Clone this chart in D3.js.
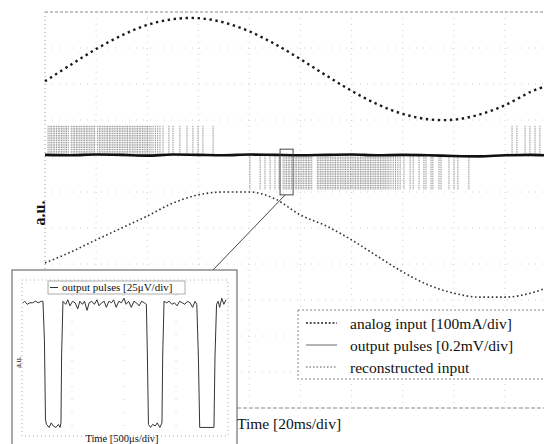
<!DOCTYPE html>
<html>
<head>
<meta charset="utf-8">
<script src="https://cdn.jsdelivr.net/npm/d3@7"></script>
<style>
  body { margin: 0; background: #fff; }
  svg { display: block; }
  text { font-family: "Liberation Serif", "DejaVu Serif", serif; fill: #111; }
</style>
</head>
<body>
<div id="chart"></div>
<script>
// time in ms (20 ms per div), amplitude in divisions
var analogT = [0, 10, 20, 30, 40, 50, 60, 70, 80, 90, 100, 110, 120, 130, 140, 150, 160, 170, 180, 190, 195.3];
var analogV = [9.08, 9.53, 9.97, 10.35, 10.64, 10.80, 10.83, 10.71, 10.46, 10.11, 9.69, 9.24, 8.81, 8.44, 8.17, 8.02, 8.01, 8.15, 8.41, 8.78, 8.92];

var reconT = [0, 10, 20, 30, 40, 50, 60, 70, 80, 90, 100, 110, 120, 130, 140, 150, 160, 170, 180, 190, 195.3];
var reconV = [4.03, 4.33, 4.67, 5.0, 5.33, 5.69, 5.92, 6.0, 6.0, 5.81, 5.36, 5.06, 4.67, 4.22, 3.78, 3.42, 3.19, 3.08, 3.08, 3.19, 3.31];

var baseT = [0, 10, 20, 30, 40, 50, 60, 70, 80, 90, 100, 110, 120, 130, 140, 150, 160, 170, 180, 190, 196];
var baseV = [7.03, 7.02, 7.04, 7.03, 7.01, 7.04, 7.03, 7.02, 7.04, 7.03, 7.02, 7.03, 7.04, 7.02, 7.03, 7.02, 7.00, 6.99, 7.02, 7.03, 7.02];
var pulseTop = 7.86, pulseBottom = 6.06;

var upPulses = [1.2, 1.9, 2.5, 3.2, 3.8, 4.5, 5.2, 5.8, 6.5, 7.1, 7.8, 8.4, 9.1,
  10.3, 11.0, 11.6, 12.3, 12.9, 13.6, 14.2, 14.9, 15.5, 16.2, 16.8, 17.5, 18.1, 18.8, 19.4,
  20.6, 21.3, 21.9, 22.6, 23.2, 23.9, 24.5, 25.2, 25.8, 26.5, 27.1, 27.8, 28.4, 29.1, 29.7,
  30.4, 31.0, 31.7, 32.3, 33.0, 33.6, 34.3, 34.9, 35.6, 36.2, 36.9, 37.5, 38.2, 38.8, 39.5,
  40.1, 40.8, 41.5, 42.3, 43.2, 44.1, 45.0,
  46.2, 48.5, 50.1, 52.8, 55.6, 57.9, 59.9, 61.8, 65.8,
  182.8, 184.7, 187.9, 189.8, 191.8, 193.7];
var downPulses = [80.2, 84.2, 86.1, 88.1, 90.0, 91.6,
  93.2, 93.9, 94.5, 95.2, 95.8, 96.5, 97.9, 98.5, 99.2, 99.8, 100.5, 101.1, 101.8, 102.4, 103.1, 103.7, 104.4,
  106.6, 107.2, 107.9, 108.5, 109.2, 109.8, 110.5, 111.1, 111.8, 112.4, 113.1, 113.7, 114.4, 115.0, 115.7,
  116.3, 117.0, 117.6, 118.3, 118.9, 119.6, 120.2, 120.9, 121.5, 122.2, 122.8, 123.5, 124.1, 124.8, 125.4,
  126.1, 126.7, 127.4, 128.0, 128.7, 129.3, 130.0, 130.6, 131.3, 131.9, 132.6, 133.2, 133.9, 134.6, 135.4,
  136.3, 137.2, 138.1, 139.0,
  140.5, 142.9, 144.1, 146.4, 148.3, 149.1, 151.1, 151.8, 154.2, 155.0, 158.1, 160.1, 161.6, 165.9];

var zoomBox = { t0: 92, t1: 97.1, v0: 5.92, v1: 7.19 };

// inset: time in us (500 us/div), amplitude a.u.
var insetT = [29, 45, 70, 95, 120, 150, 175, 205, 221, 235, 245, 255, 280, 300, 320, 345, 370, 385, 394,
  400, 413, 440, 460, 480, 505, 530, 555, 575, 600, 620, 645, 665, 690, 715, 740, 760, 785, 810, 830, 855,
  880, 900, 925, 950, 975, 1000, 1020, 1045, 1070, 1095, 1120, 1145, 1170, 1195, 1215,
  1225, 1235, 1255, 1275, 1300, 1320, 1345, 1365,
  1372, 1385, 1410, 1435, 1460, 1485, 1510, 1535, 1560, 1585, 1610, 1635, 1660, 1683,
  1700, 1715, 1728, 1865, 1875, 1890, 1905, 1920, 1940, 1960, 1981];
var insetV = [0.85, 0.86, 0.84, 0.85, 0.85, 0.86, 0.85, 0.86, 0.86, 0.60, 0.08, 0.05, 0.03, 0.06, 0.04, 0.03, 0.05, 0.03, 0.06,
  0.50, 0.86, 0.84, 0.87, 0.83, 0.86, 0.85, 0.81, 0.86, 0.84, 0.86, 0.80, 0.85, 0.86, 0.84, 0.87, 0.83, 0.85, 0.86, 0.82, 0.86,
  0.85, 0.87, 0.82, 0.86, 0.85, 0.88, 0.84, 0.86, 0.82, 0.86, 0.85, 0.83, 0.86, 0.85, 0.84,
  0.50, 0.05, 0.03, 0.05, 0.04, 0.06, 0.03, 0.06,
  0.50, 0.86, 0.85, 0.86, 0.84, 0.85, 0.83, 0.86, 0.85, 0.84, 0.86, 0.85, 0.82, 0.86,
  0.84, 0.50, 0.03, 0.03, 0.50, 0.84, 0.86, 0.82, 0.88, 0.84, 0.87];

var legendLabels = ["analog input [100mA/div]", "output pulses [0.2mV/div]", "reconstructed input"];

var W = 544, H = 444;
var svg = d3.select("#chart").append("svg")
    .attr("width", W)
    .attr("height", H);

var x = d3.scaleLinear().domain([0, 200]).range([45, 556]);
var y = d3.scaleLinear().domain([0, 11]).range([408, 12]);

// grid
var grid = svg.append("g");
grid.selectAll("line.vx")
  .data(d3.range(1, 10))
  .enter().append("line")
  .attr("x1", function(d){ return x(d * 20); })
  .attr("x2", function(d){ return x(d * 20); })
  .attr("y1", y(11)).attr("y2", y(0))
  .attr("stroke", "#c4c4c4").attr("stroke-width", 0.8)
  .attr("stroke-dasharray", "1,5");
grid.selectAll("line.hy")
  .data(d3.range(1, 11))
  .enter().append("line")
  .attr("y1", function(d){ return y(d); })
  .attr("y2", function(d){ return y(d); })
  .attr("x1", x(0)).attr("x2", W)
  .attr("stroke", "#c4c4c4").attr("stroke-width", 0.8)
  .attr("stroke-dasharray", "1,6");

// frame
svg.append("line").attr("x1", x(0)).attr("x2", W).attr("y1", y(11)).attr("y2", y(11))
  .attr("stroke", "#8a8a8a").attr("stroke-dasharray", "3,2");
svg.append("line").attr("x1", x(0)).attr("x2", W).attr("y1", y(0)).attr("y2", y(0))
  .attr("stroke", "#8a8a8a").attr("stroke-dasharray", "4,2");
svg.append("line").attr("x1", x(0)).attr("x2", x(0)).attr("y1", y(11)).attr("y2", y(0))
  .attr("stroke", "#9a9a9a").attr("stroke-dasharray", "1,3");

// pulses
svg.selectAll("line.up")
  .data(upPulses)
  .enter().append("line")
  .attr("class", "up")
  .attr("x1", function(d){ return x(d); })
  .attr("x2", function(d){ return x(d); })
  .attr("y1", y(7.03)).attr("y2", y(pulseTop))
  .attr("stroke", "#666").attr("stroke-width", 0.7)
  .attr("stroke-dasharray", "1.5,0.8");
svg.selectAll("line.down")
  .data(downPulses)
  .enter().append("line")
  .attr("class", "down")
  .attr("x1", function(d){ return x(d); })
  .attr("x2", function(d){ return x(d); })
  .attr("y1", y(7.03)).attr("y2", y(pulseBottom))
  .attr("stroke", "#666").attr("stroke-width", 0.7)
  .attr("stroke-dasharray", "1.5,0.8");

var baseLine = d3.line()
  .x(function(d, i){ return x(baseT[i]); })
  .y(function(d){ return y(d); })
  .curve(d3.curveMonotoneX);
svg.append("path").attr("d", baseLine(baseV))
  .attr("fill", "none").attr("stroke", "#111").attr("stroke-width", 2.6);

// analog input
var aLine = d3.line()
  .x(function(d, i){ return x(analogT[i]); })
  .y(function(d){ return y(d); })
  .curve(d3.curveCardinal);
svg.append("path").attr("d", aLine(analogV))
  .attr("fill", "none").attr("stroke", "#1a1a1a").attr("stroke-width", 2.4)
  .attr("stroke-dasharray", "2.4,3.6");

// reconstructed input
var rLine = d3.line()
  .x(function(d, i){ return x(reconT[i]); })
  .y(function(d){ return y(d); })
  .curve(d3.curveMonotoneX);
svg.append("path").attr("d", rLine(reconV))
  .attr("fill", "none").attr("stroke", "#333").attr("stroke-width", 1.6)
  .attr("stroke-dasharray", "1.6,2.6");

// zoom marker
svg.append("rect")
  .attr("x", x(zoomBox.t0)).attr("y", y(zoomBox.v1))
  .attr("width", x(zoomBox.t1) - x(zoomBox.t0))
  .attr("height", y(zoomBox.v0) - y(zoomBox.v1))
  .attr("fill", "none").attr("stroke", "#333").attr("stroke-width", 0.9);
svg.append("line")
  .attr("x1", x(94)).attr("y1", y(zoomBox.v0))
  .attr("x2", 213).attr("y2", 270)
  .attr("stroke", "#333").attr("stroke-width", 0.9);

// axis labels
svg.append("text")
  .attr("transform", "translate(45,213) rotate(-90)")
  .attr("text-anchor", "middle")
  .attr("font-size", 16).attr("font-weight", "bold")
  .text("a.u.");
svg.append("text")
  .attr("x", 237).attr("y", 429)
  .attr("font-size", 15.5)
  .text("Time [20ms/div]");

// legend
var lg = svg.append("g");
lg.append("rect").attr("x", 298).attr("y", 310).attr("width", 260).attr("height", 69)
  .attr("fill", "#fff").attr("stroke", "#888").attr("stroke-dasharray", "2,2");
var legStyles = [
  { w: 1.6, dash: "1.8,2", c: "#111" },
  { w: 0.8, dash: null, c: "#444" },
  { w: 1.0, dash: "1.5,2", c: "#555" }
];
legendLabels.forEach(function(l, i){
  var ly = 323 + i * 22;
  lg.append("line").attr("x1", 306).attr("x2", 337).attr("y1", ly).attr("y2", ly)
    .attr("stroke", legStyles[i].c).attr("stroke-width", legStyles[i].w)
    .attr("stroke-dasharray", legStyles[i].dash);
  lg.append("text").attr("x", 350).attr("y", ly + 5.5)
    .attr("font-size", 15.5).text(l);
});

// inset
var inset = svg.append("g");
inset.append("rect").attr("x", 12).attr("y", 270).attr("width", 225).attr("height", 190)
  .attr("fill", "#fff").attr("stroke", "#555").attr("stroke-width", 1);
var ix = d3.scaleLinear().domain([0, 2000]).range([20, 228]);
var iy = d3.scaleLinear().domain([0, 1]).range([432, 280]);
inset.append("rect").attr("x", 22).attr("y", 280).attr("width", 206).attr("height", 156)
  .attr("fill", "none").attr("stroke", "#aaa").attr("stroke-dasharray", "1,3");
inset.selectAll("line.ig")
  .data([500, 1000, 1500])
  .enter().append("line")
  .attr("x1", function(d){ return ix(d); }).attr("x2", function(d){ return ix(d); })
  .attr("y1", 295).attr("y2", 432)
  .attr("stroke", "#ccc").attr("stroke-dasharray", "1,12");
var iLine = d3.line()
  .x(function(d, i){ return ix(insetT[i]); })
  .y(function(d){ return iy(d); });
inset.append("path").attr("d", iLine(insetV))
  .attr("fill", "none").attr("stroke", "#333").attr("stroke-width", 1);

inset.append("rect").attr("x", 48).attr("y", 281).attr("width", 137).attr("height", 13)
  .attr("fill", "#fff").attr("stroke", "#999").attr("stroke-width", 0.8);
inset.append("line").attr("x1", 50).attr("x2", 58).attr("y1", 287.5).attr("y2", 287.5)
  .attr("stroke", "#333").attr("stroke-width", 1);
inset.append("text").attr("x", 62).attr("y", 291).attr("font-size", 11)
  .text("output pulses [25\u03BCV/div]");
inset.append("text")
  .attr("transform", "translate(21,362) rotate(-90)")
  .attr("text-anchor", "middle").attr("font-size", 8)
  .text("a.u.");
inset.append("text").attr("x", 122).attr("y", 442).attr("text-anchor", "middle")
  .attr("font-size", 10.5).text("Time [500\u03BCs/div]");
</script>
</body>
</html>
